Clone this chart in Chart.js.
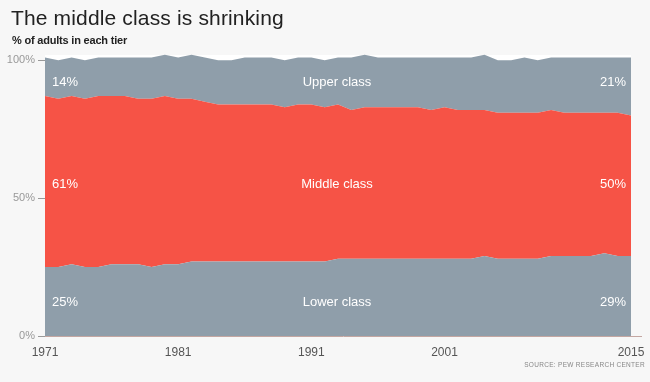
<!DOCTYPE html>
<html>
<head>
<meta charset="utf-8">
<script src="https://cdn.jsdelivr.net/npm/chart.js@4"></script>
<style>
  html, body { margin: 0; padding: 0; background: #f7f7f7; }
  #wrap { position: relative; width: 650px; height: 382px; }
  #title { position: absolute; left: 11px; top: 6px; font: 21px "Liberation Sans", Arial, sans-serif; color: #222; letter-spacing: 0.15px; }
  #subtitle { position: absolute; left: 12px; top: 34px; font: bold 11px "Liberation Sans", Arial, sans-serif; color: #222; letter-spacing: -0.2px; }
  canvas { position: absolute; left: 0; top: 0; }
</style>
</head>
<body>
<div id="wrap">
  <canvas id="classChart" width="650" height="382"></canvas>
  <div id="title">The middle class is shrinking</div>
  <div id="subtitle">% of adults in each tier</div>
</div>
<script>
// years 1971..2015
const years = [];
for (let y = 1971; y <= 2015; y++) years.push(String(y));
const tickYears = ['1971', '1981', '1991', '2001', '2015'];
const yTicks = [0, 50, 100];

const lowerClass = [25, 25, 26, 25, 25, 26, 26, 26, 25, 26, 26, 27, 27, 27, 27, 27, 27, 27, 27, 27, 27, 27,
  28, 28, 28, 28, 28, 28, 28, 28, 28, 28, 28, 29, 28, 28, 28, 28, 29, 29, 29, 29, 30, 29, 29];
const middleClass = [62, 61, 61, 61, 62, 61, 61, 60, 61, 61, 60, 59, 58, 57, 57, 57, 57, 57, 56, 57, 57, 56,
  56, 54, 55, 55, 55, 55, 55, 54, 55, 54, 54, 53, 53, 53, 53, 53, 53, 52, 52, 52, 51, 52, 51];
const upperClass = [14, 14, 14, 14, 14, 14, 14, 15, 15, 15, 15, 16, 16, 16, 16, 17, 17, 17, 17, 17, 17, 17,
  17, 19, 19, 18, 18, 18, 18, 19, 18, 19, 19, 20, 19, 19, 20, 19, 19, 20, 20, 20, 20, 20, 21];

const firstLabels = ['25%', '61%', '14%'];
const lastLabels = ['29%', '50%', '21%'];
const bandNames = ['Lower class', 'Middle class', 'Upper class'];

const grayFill = '#8f9eaa';
const redFill = '#f65346';
const fontFam = '"Liberation Sans", Arial, sans-serif';

const bgPlugin = {
  id: 'bg',
  beforeDraw(chart) {
    const { ctx, chartArea } = chart;
    ctx.save();
    ctx.fillStyle = '#ffffff';
    ctx.fillRect(chartArea.left, chartArea.top + 3, chartArea.right - chartArea.left, chartArea.bottom - chartArea.top - 3);
    ctx.restore();
  }
};

const labelPlugin = {
  id: 'bandLabels',
  afterDatasetsDraw(chart) {
    const { ctx, chartArea, scales } = chart;
    const levels = [12.3, 55, 92];
    ctx.save();
    ctx.fillStyle = '#ffffff';
    ctx.font = '13px ' + fontFam;
    ctx.textBaseline = 'middle';
    levels.forEach((lv, i) => {
      const y = scales.y.getPixelForValue(lv);
      ctx.textAlign = 'left';
      ctx.fillText(firstLabels[i], chartArea.left + 7, y);
      ctx.textAlign = 'center';
      ctx.fillText(bandNames[i], (chartArea.left + chartArea.right) / 2 - 1, y);
      ctx.textAlign = 'right';
      ctx.fillText(lastLabels[i], chartArea.right - 5, y);
    });
    // bottom axis line
    ctx.strokeStyle = '#c4a7a2';
    ctx.lineWidth = 1;
    ctx.beginPath();
    ctx.moveTo(chartArea.left, chartArea.bottom + 0.5);
    ctx.lineTo(642, chartArea.bottom + 0.5);
    ctx.stroke();
    // source
    ctx.fillStyle = '#888';
    ctx.font = '6.5px ' + fontFam;
    ctx.letterSpacing = '0.3px';
    ctx.textAlign = 'right';
    ctx.textBaseline = 'alphabetic';
    ctx.fillText('SOURCE: PEW RESEARCH CENTER', 645, 367);
    ctx.restore();
  }
};

const ctxClass = document.getElementById('classChart').getContext('2d');
new Chart(ctxClass, {
  type: 'line',
  data: {
    labels: years,
    datasets: [
      { label: 'Lower class', data: lowerClass, backgroundColor: grayFill, fill: 'origin' },
      { label: 'Middle class', data: middleClass, backgroundColor: redFill, fill: '-1' },
      { label: 'Upper class', data: upperClass, backgroundColor: grayFill, fill: '-1' }
    ]
  },
  options: {
    responsive: false,
    animation: false,
    devicePixelRatio: 1,
    layout: { padding: { left: 0, right: 19, top: 52, bottom: 0 } },
    datasets: {
      line: { pointRadius: 0, borderWidth: 0, tension: 0 }
    },
    plugins: {
      legend: { display: false },
      tooltip: { enabled: false }
    },
    scales: {
      x: {
        grid: { display: false, drawTicks: false },
        border: { display: false },
        ticks: {
          autoSkip: false,
          maxRotation: 0,
          padding: 9,
          color: '#555',
          font: { family: fontFam, size: 12 },
          callback: function (v) {
            const l = this.getLabelForValue(v);
            return tickYears.includes(l) ? l : null;
          }
        },
        afterFit(scale) {
          scale.height = 46;
          scale.paddingLeft = 0;
          scale.paddingRight = 0;
        }
      },
      y: {
        stacked: true,
        min: 0,
        max: 103,
        grid: { drawOnChartArea: false, tickLength: 7, color: '#999', tickWidth: 1 },
        border: { display: false },
        ticks: {
          padding: 3,
          color: '#999',
          font: { family: fontFam, size: 11 },
          callback: v => v + '%'
        },
        afterBuildTicks(scale) { scale.ticks = yTicks.map(v => ({ value: v })); },
        afterFit(scale) { scale.width = 45; }
      }
    }
  },
  plugins: [bgPlugin, labelPlugin]
});
</script>
</body>
</html>
